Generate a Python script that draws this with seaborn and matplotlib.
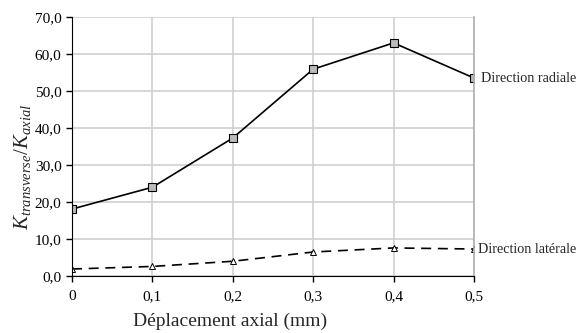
import numpy as np
import pandas as pd
import seaborn as sns
import matplotlib
matplotlib.use('Agg')
import matplotlib.pyplot as plt
from matplotlib.ticker import FuncFormatter

deplacement = [0, 0.1, 0.2, 0.3, 0.4, 0.5]
radiale = [18.1, 24.0, 37.3, 55.9, 63.0, 53.5]
laterale = [1.9, 2.6, 4.0, 6.5, 7.6, 7.3]

sns.set_style('white')
plt.rcParams['font.family'] = ['Liberation Serif', 'DejaVu Serif']
plt.rcParams['mathtext.fontset'] = 'custom'
plt.rcParams['mathtext.rm'] = 'Liberation Serif'
plt.rcParams['mathtext.it'] = 'Liberation Serif:italic'

fig = plt.figure(figsize=(5.77, 3.33), dpi=100)
ax = fig.add_axes([0.1248, 0.171, 0.6967, 0.778])

sns.lineplot(x=deplacement, y=radiale, ax=ax, color='black', lw=1.2,
             marker='s', markersize=5.5, markerfacecolor='#bbbbbb',
             markeredgecolor='black', markeredgewidth=0.8)
sns.lineplot(x=deplacement, y=laterale, ax=ax, color='black', lw=1.2,
             linestyle=(0, (6, 4)), marker='^', markersize=4.5,
             markerfacecolor='white', markeredgecolor='black', markeredgewidth=0.7)

ax.set_xlim(0, 0.5)
ax.set_ylim(0, 70)
ax.set_xticks(deplacement)
ax.set_yticks(np.arange(0, 71, 10))
ax.xaxis.set_major_formatter(FuncFormatter(lambda v, p: '0' if v == 0 else f'{v:.1f}'.replace('.', ',')))
ax.yaxis.set_major_formatter(FuncFormatter(lambda v, p: f'{v:.1f}'.replace('.', ',')))
ax.grid(True, color='#d0d0d0', lw=1.2)
ax.set_axisbelow(True)
ax.spines['top'].set_visible(False)
ax.spines['right'].set_color('#b0b0b0')
ax.spines['right'].set_linewidth(1.2)
ax.spines['left'].set_color('black')
ax.spines['bottom'].set_color('black')
ax.tick_params(axis='both', direction='out', length=4, width=1, colors='black',
               labelsize=11, left=True, bottom=True)
ax.tick_params(axis='x', pad=6)

fig.text(230 / 577, 0.036, 'Déplacement axial (mm)', fontsize=14, ha='center', va='center')
ax.set_ylabel(r'$K_{transverse}/K_{axial}$', fontsize=15)
ax.yaxis.set_label_coords(-0.098, 0.42)

ax.annotate('Direction radiale', xy=(0.5, radiale[-1]), xytext=(5, 0),
            textcoords='offset points', va='center', ha='left', fontsize=10.2, annotation_clip=False)
ax.annotate('Direction latérale', xy=(0.5, laterale[-1]), xytext=(3, 0),
            textcoords='offset points', va='center', ha='left', fontsize=10.2, annotation_clip=False)

fig.savefig('out.png', dpi=100)
